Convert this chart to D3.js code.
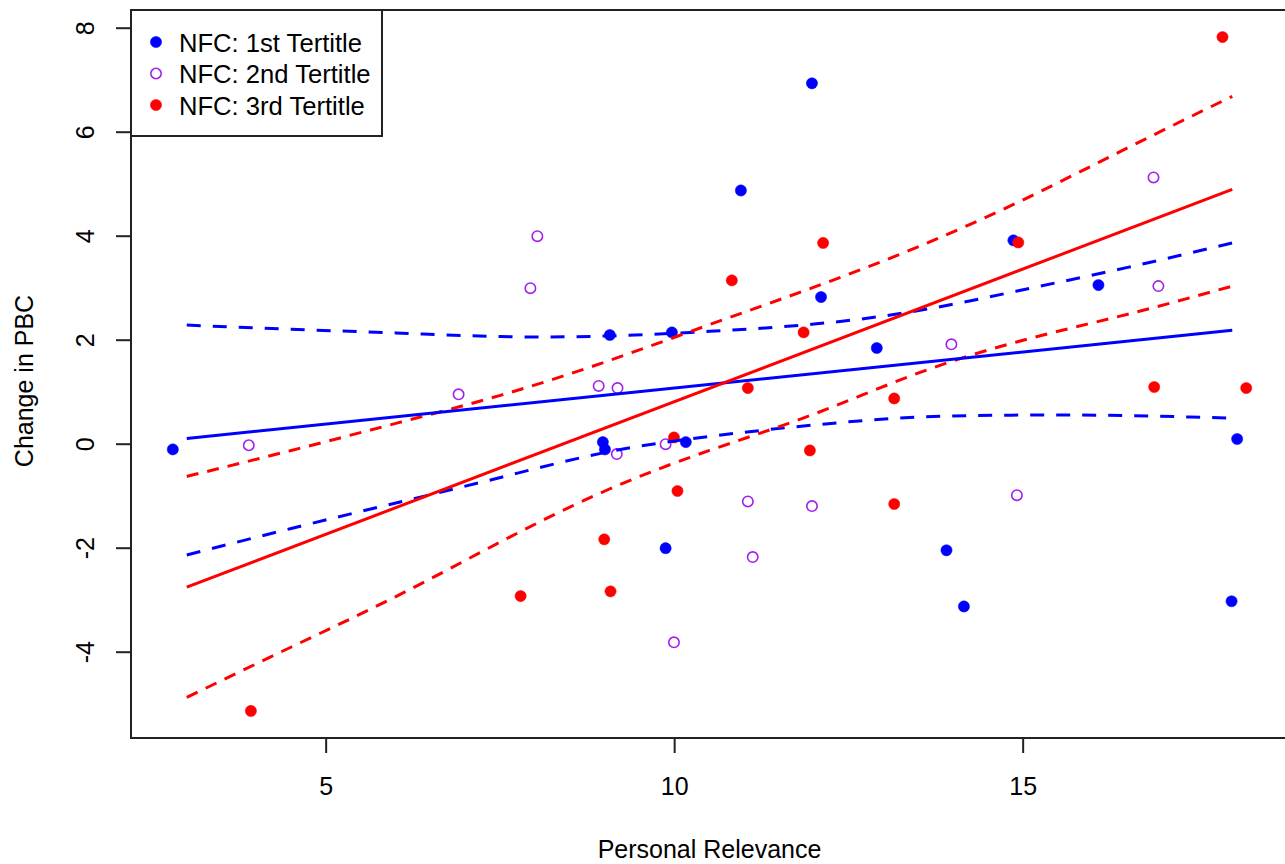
<!DOCTYPE html>
<html>
<head>
<meta charset="utf-8">
<script src="https://cdn.jsdelivr.net/npm/d3@7"></script>
<style>
  html, body { margin: 0; padding: 0; background: #fff; }
  svg { display: block; }
  text { font-family: "Liberation Sans", Arial, sans-serif; fill: #000; }
</style>
</head>
<body>
<svg id="chart" width="1285" height="864"></svg>
<script>
// ---- data ----
const xTicks = [5, 10, 15];
const yTicks = [-4, -2, 0, 2, 4, 6, 8];
const legendLabels = ["NFC: 1st Tertitle", "NFC: 2nd Tertitle", "NFC: 3rd Tertitle"];

const t1X = [2.80, 8.97, 9.00, 9.07, 9.96, 9.87, 10.16, 10.95, 11.97, 12.10, 12.90, 13.90, 14.15, 14.86, 16.08, 18.07, 17.99];
const t1Y = [-0.10, 0.04, -0.10, 2.10, 2.15, -2.00, 0.04, 4.88, 6.94, 2.83, 1.85, -2.04, -3.12, 3.92, 3.06, 0.10, -3.02];

const t2X = [3.89, 6.90, 7.93, 8.03, 8.91, 9.18, 9.17, 9.87, 9.99, 11.05, 11.12, 11.97, 13.97, 14.91, 16.87, 16.94];
const t2Y = [-0.02, 0.96, 3.00, 4.00, 1.12, 1.08, -0.19, 0.00, -3.81, -1.10, -2.17, -1.19, 1.92, -0.98, 5.13, 3.04];

const t3X = [3.92, 7.79, 8.99, 9.08, 9.99, 10.04, 10.82, 11.05, 11.85, 11.94, 12.13, 13.15, 13.15, 14.93, 16.88, 17.86, 18.20];
const t3Y = [-5.13, -2.92, -1.83, -2.83, 0.13, -0.90, 3.15, 1.08, 2.15, -0.12, 3.87, 0.88, -1.15, 3.88, 1.10, 7.83, 1.08];

const fitX = [3, 18];
const t1Fit = [0.11, 2.19];
const t3Fit = [-2.75, 4.90];

const bandX = [3, 4.5, 6, 7.5, 9, 10.5, 12, 13.5, 15, 16.5, 18];
const t1Upper = [2.29, 2.21, 2.14, 2.07, 2.08, 2.17, 2.31, 2.57, 2.97, 3.40, 3.87];
const t1Lower = [-2.13, -1.62, -1.13, -0.64, -0.16, 0.15, 0.37, 0.52, 0.56, 0.55, 0.50];
const t3Upper = [-0.62, -0.12, 0.40, 0.94, 1.58, 2.30, 3.02, 3.80, 4.70, 5.70, 6.69];
const t3Lower = [-4.87, -3.90, -2.93, -1.88, -0.90, -0.12, 0.58, 1.37, 2.00, 2.50, 3.04];

// ---- layout ----
const svg = d3.select("#chart");
const L = 131, T = 10, B = 738;
const x = d3.scaleLinear().domain([2.2, 18.8]).range([L, L + 16.6 * 69.7]);
const y = d3.scaleLinear().domain([-5.65, 8.35]).range([B, T]);
const R = x.range()[1];

const BLUE = "#0000FF", PURPLE = "#A020F0", RED = "#FF0000";

svg.append("defs").append("clipPath").attr("id", "clip")
  .append("rect").attr("x", L).attr("y", T).attr("width", R - L).attr("height", B - T);

const plot = svg.append("g").attr("clip-path", "url(#clip)");

// points
function drawPts(xs, ys, color, filled) {
  plot.append("g").selectAll("circle").data(xs.map((d, i) => [d, ys[i]])).join("circle")
    .attr("cx", d => x(d[0])).attr("cy", d => y(d[1]))
    .attr("r", filled ? 5.6 : 5.2)
    .attr("fill", filled ? color : "none")
    .attr("stroke", color)
    .attr("stroke-width", filled ? 0.5 : 1.6);
}
drawPts(t1X, t1Y, BLUE, true);
drawPts(t2X, t2Y, PURPLE, false);
drawPts(t3X, t3Y, RED, true);

// lines
const lineGen = d3.line().x(d => x(d[0])).y(d => y(d[1]));
const bandGen = d3.line().x(d => x(d[0])).y(d => y(d[1])).curve(d3.curveNatural);
function drawLine(xs, ys, color, dash, gen) {
  plot.append("path").datum(xs.map((d, i) => [d, ys[i]]))
    .attr("d", gen).attr("fill", "none").attr("stroke", color)
    .attr("stroke-width", 3).attr("stroke-dasharray", dash);
}
drawLine(bandX, t1Upper, BLUE, "14,12", bandGen);
drawLine(bandX, t1Lower, BLUE, "14,12", bandGen);
drawLine(bandX, t3Upper, RED, "12,9", bandGen);
drawLine(bandX, t3Lower, RED, "12,9", bandGen);
drawLine(fitX, t1Fit, BLUE, null, lineGen);
drawLine(fitX, t3Fit, RED, null, lineGen);

// box (top, left, bottom)
svg.append("path")
  .attr("d", `M${R},${T}H${L}V${B}H${R}`)
  .attr("fill", "none").attr("stroke", "#222").attr("stroke-width", 2);

// y axis ticks & labels
const yg = svg.append("g");
yg.selectAll("line").data(yTicks).join("line")
  .attr("x1", L - 15).attr("x2", L).attr("y1", d => y(d)).attr("y2", d => y(d))
  .attr("stroke", "#222").attr("stroke-width", 2);
yg.selectAll("text").data(yTicks).join("text")
  .attr("transform", d => `translate(94,${y(d)}) rotate(-90)`)
  .attr("text-anchor", "middle").attr("font-size", 25)
  .text(d => d);

// x axis ticks & labels
const xg = svg.append("g");
xg.selectAll("line").data(xTicks).join("line")
  .attr("x1", d => x(d)).attr("x2", d => x(d)).attr("y1", B).attr("y2", B + 15)
  .attr("stroke", "#222").attr("stroke-width", 2);
xg.selectAll("text").data(xTicks).join("text")
  .attr("x", d => x(d)).attr("y", 795)
  .attr("text-anchor", "middle").attr("font-size", 25)
  .text(d => d);

// axis titles
svg.append("text").attr("x", (L + R) / 2).attr("y", 858)
  .attr("text-anchor", "middle").attr("font-size", 25).text("Personal Relevance");
svg.append("text").attr("transform", `translate(33,381) rotate(-90)`)
  .attr("text-anchor", "middle").attr("font-size", 25).text("Change in PBC");

// legend
const lg = svg.append("g");
lg.append("rect").attr("x", L).attr("y", T).attr("width", 251).attr("height", 126)
  .attr("fill", "#fff").attr("stroke", "#222").attr("stroke-width", 2);
const legColors = [BLUE, PURPLE, RED];
const legFilled = [true, false, true];
legendLabels.forEach((lab, i) => {
  const cy = 42 + i * 31.5;
  lg.append("circle").attr("cx", 156).attr("cy", cy).attr("r", legFilled[i] ? 5.6 : 5.2)
    .attr("fill", legFilled[i] ? legColors[i] : "none")
    .attr("stroke", legColors[i]).attr("stroke-width", legFilled[i] ? 0.5 : 1.6);
  lg.append("text").attr("x", 179).attr("y", cy + 9.5).attr("font-size", 25.6).text(lab);
});
</script>
</body>
</html>
